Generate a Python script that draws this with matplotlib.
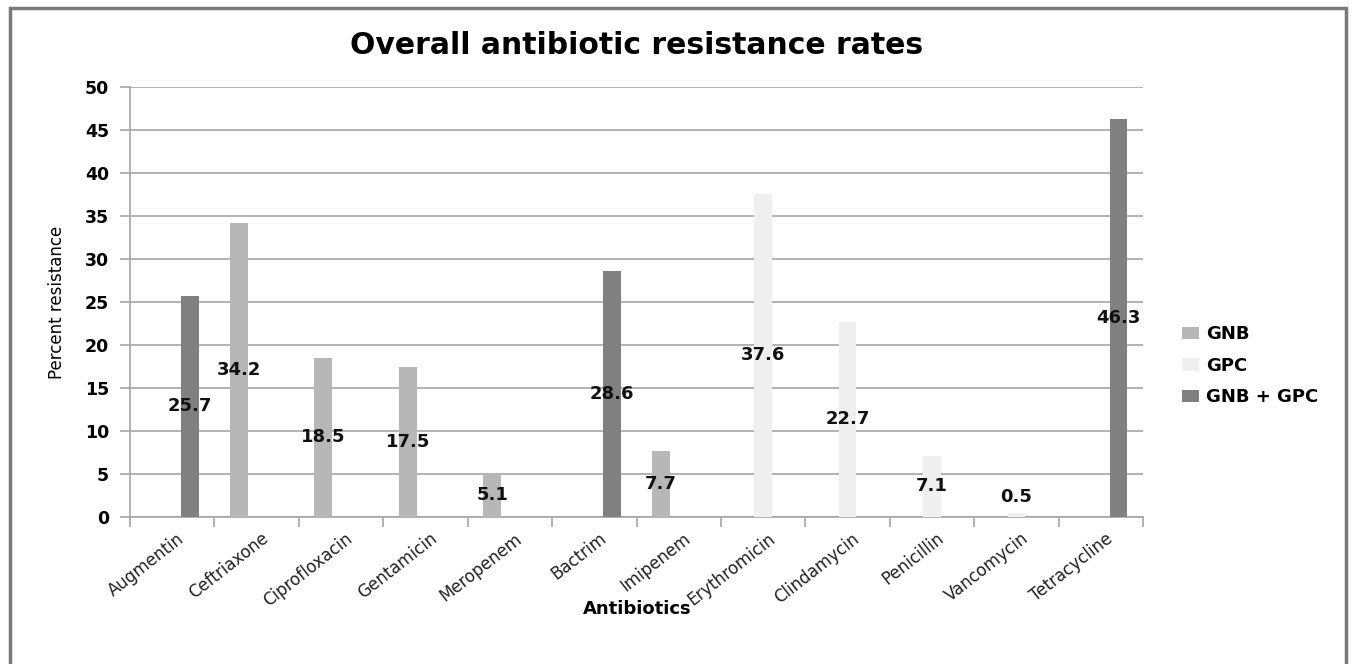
import numpy as np
import matplotlib
matplotlib.use("Agg")
import matplotlib.pyplot as plt
from matplotlib.patches import Rectangle

# data
antibiotics = ["Augmentin", "Ceftriaxone", "Ciprofloxacin", "Gentamicin", "Meropenem",
               "Bactrim", "Imipenem", "Erythromicin", "Clindamycin", "Penicillin",
               "Vancomycin", "Tetracycline"]
gnb = [0, 34.2, 18.5, 17.5, 5.1, 0, 7.7, 0, 0, 0, 0, 0]
gpc = [0, 0, 0, 0, 0, 0, 0, 37.6, 22.7, 7.1, 0.5, 0]
both = [25.7, 0, 0, 0, 0, 28.6, 0, 0, 0, 0, 0, 46.3]
series_names = ["GNB", "GPC", "GNB + GPC"]
yticks = list(range(0, 55, 5))

colors = ["#b7b7b7", "#efefef", "#808080"]
grid_col = "#a6a6a6"

fig = plt.figure(figsize=(13.53, 6.64), dpi=100)
ax = fig.add_axes([130 / 1353, 1 - 517 / 664, (1143 - 130) / 1353, (517 - 87) / 664])

x = np.arange(len(antibiotics))
w = 0.21
for k, (vals, name, c) in enumerate(zip([gnb, gpc, both], series_names, colors)):
    pos = x + (k - 1) * w
    ax.bar(pos, vals, width=w, color=c, label=name, zorder=3)
    for p, v in zip(pos, vals):
        if v > 0:
            ax.text(p, max(v / 2, 2.3), f"{v:.1f}", ha="center", va="center",
                    fontsize=13, fontweight="bold", color="#111111", zorder=4)

ax.set_xlim(-0.5, len(antibiotics) - 0.5)
ax.set_ylim(0, 50)
ax.set_yticks(yticks)
ax.set_yticklabels([str(t) for t in yticks], fontsize=12.5, fontweight="bold")
ax.yaxis.grid(True, color=grid_col, lw=1.2, zorder=0)

# category labels at centres, tick marks at boundaries
ax.set_xticks(x + 0.05)
ax.set_xticklabels(antibiotics, rotation=38, ha="right", rotation_mode="anchor",
                   fontsize=12, color="#222222")
ax.tick_params(axis="x", which="major", length=0, pad=9)
ax.set_xticks(np.arange(-0.5, len(antibiotics)), minor=True)
ax.tick_params(axis="x", which="minor", length=7, color=grid_col, width=1.2)
ax.tick_params(axis="y", length=7, color=grid_col, width=1.2, pad=8)

for s in ["top", "right"]:
    ax.spines[s].set_visible(False)
for s in ["left", "bottom"]:
    ax.spines[s].set_color(grid_col)
    ax.spines[s].set_linewidth(1.2)

fig.text(57 / 1353, 1 - 302 / 664, "Percent resistance", rotation=90,
         ha="center", va="center", fontsize=12)
fig.text(637 / 1353, 1 - 609 / 664, "Antibiotics", ha="center", va="center",
         fontsize=13, fontweight="bold")
fig.text(637 / 1353, 1 - 45 / 664, "Overall antibiotic resistance rates",
         ha="center", va="center", fontsize=21.5, fontweight="bold")

fig.legend(loc="upper left", bbox_to_anchor=(1166 / 1353, 1 - 309 / 664),
           frameon=False, prop={"size": 13, "weight": "bold"},
           handlelength=0.9, handleheight=0.7, labelspacing=0.75, handletextpad=0.4)

# outer chart frame
fig.patches.append(Rectangle((10 / 1353, -0.02), (1346 - 10) / 1353, 1.02 - 8 / 664,
                             transform=fig.transFigure, fill=False,
                             edgecolor="#7a7a7a", lw=2.5))

fig.savefig("out.png", dpi=100)
